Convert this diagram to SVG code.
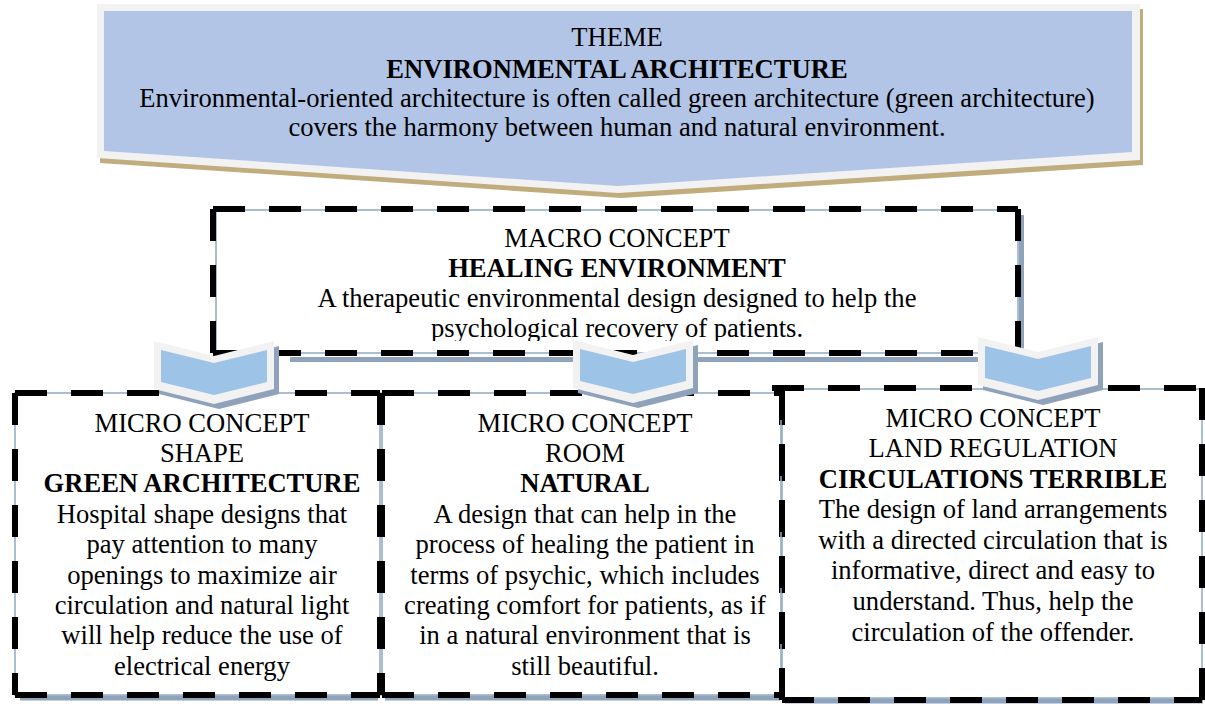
<svg xmlns="http://www.w3.org/2000/svg" width="1205" height="704" viewBox="0 0 1205 704">
<style>
  text { font-family: 'Liberation Serif', 'Times New Roman', serif; font-size: 26.6px; fill: #000; text-anchor: middle; }
  .b { font-weight: bold; }
  .dash { fill: none; stroke: #000; stroke-width: 6; stroke-dasharray: 32 24; }
  .thin { fill: none; stroke: #8fa9c4; stroke-width: 1.5; }
  .shadowband { fill: none; stroke: #8fa3bb; stroke-width: 5; }
  .chev-shadow { fill: #8ea2ba; }
  .chev-outer { fill: #f2f2f2; }
  .chev-inner { fill: #9dc3e6; }
</style>
<defs>
  <clipPath id="macroClip"><rect x="200" y="200" width="830" height="141"/></clipPath>
  <g id="chev">
    <polygon class="chev-shadow" points="-55,5 5,20 65,5 65,53 5,68 -55,53"/>
    <polygon class="chev-outer" points="-60,0 0,15 60,0 60,48 0,63 -60,48"/>
    <polygon class="chev-inner" points="-53,9 0,22 53,9 53,41 0,54 -53,41"/>
  </g>
</defs>
<rect width="1205" height="704" fill="#fff"/>

<g id="theme">
  <polygon points="100,9 1143,9 1143,165 621,198 100,163" fill="#c0ac7c"/>
  <polygon points="97,4 1140,4 1140,160 618,193 97,158" fill="#f2f2f2"/>
  <polygon points="104,11 1132,11 1132,152 618,186 104,151" fill="#b2c5e6"/>
  <text x="617" y="46">THEME</text>
  <text x="617" y="78" class="b">ENVIRONMENTAL ARCHITECTURE</text>
  <text x="617" y="107">Environmental-oriented architecture is often called green architecture (green architecture)</text>
  <text x="617" y="136">covers the harmony between human and natural environment.</text>
</g>

<g id="macro">
  <path class="shadowband" d="M290,359.5 H1002 M1021.5,215 V350"/>
  <rect class="thin" x="216" y="210" width="802" height="143"/>
  <path class="dash" d="M213,209 H1018 M1018,209 V353 M213,209 V353 M213,353 H1018"/>
  <g clip-path="url(#macroClip)">
    <text x="617" y="247">MACRO CONCEPT</text>
    <text x="617" y="277" class="b">HEALING ENVIRONMENT</text>
    <text x="617" y="307">A therapeutic environmental design designed to help the</text>
    <text x="617" y="337">psychological recovery of patients.</text>
  </g>
</g>

<g id="micro1">
  <path class="shadowband" d="M20,698 H378"/>
  <rect class="thin" x="15" y="393" width="365" height="302"/>
  <path class="dash" d="M15,393 H380 M15,393 V695 M380,393 V695 M15,695 H380"/>
  <text x="202" y="432">MICRO CONCEPT</text>
  <text x="202" y="462">SHAPE</text>
  <text x="202" y="492" class="b">GREEN ARCHITECTURE</text>
  <text x="202" y="523">Hospital shape designs that</text>
  <text x="202" y="553">pay attention to many</text>
  <text x="202" y="584">openings to maximize air</text>
  <text x="202" y="614">circulation and natural light</text>
  <text x="202" y="644">will help reduce the use of</text>
  <text x="202" y="675">electrical energy</text>
</g>

<g id="micro2">
  <path class="shadowband" d="M385,698 H780"/>
  <rect class="thin" x="382" y="393" width="400" height="302"/>
  <path class="dash" d="M382,393 H782 M382,393 V695 M782,393 V695 M382,695 H782"/>
  <text x="585" y="432">MICRO CONCEPT</text>
  <text x="585" y="462">ROOM</text>
  <text x="585" y="492" class="b">NATURAL</text>
  <text x="585" y="523">A design that can help in the</text>
  <text x="585" y="553">process of healing the patient in</text>
  <text x="585" y="584">terms of psychic, which includes</text>
  <text x="585" y="614">creating comfort for patients, as if</text>
  <text x="585" y="644">in a natural environment that is</text>
  <text x="585" y="675">still beautiful.</text>
</g>

<g id="micro3">
  <path class="shadowband" d="M785,701 H1203"/>
  <rect class="thin" x="781" y="389" width="421" height="309"/>
  <path class="dash" d="M772,388 H1202 M782,388 V700 M1202,388 V700 M782,700 H1202"/>
  <text x="993" y="427">MICRO CONCEPT</text>
  <text x="993" y="457">LAND REGULATION</text>
  <text x="993" y="488" class="b">CIRCULATIONS TERRIBLE</text>
  <text x="993" y="518">The design of land arrangements</text>
  <text x="993" y="549">with a directed circulation that is</text>
  <text x="993" y="579">informative, direct and easy to</text>
  <text x="993" y="610">understand. Thus, help the</text>
  <text x="993" y="641">circulation of the offender.</text>
</g>

<g id="connectors">
  <use href="#chev" x="214" y="341"/>
  <use href="#chev" x="633" y="340"/>
  <use href="#chev" x="1038" y="337"/>
</g>
</svg>
